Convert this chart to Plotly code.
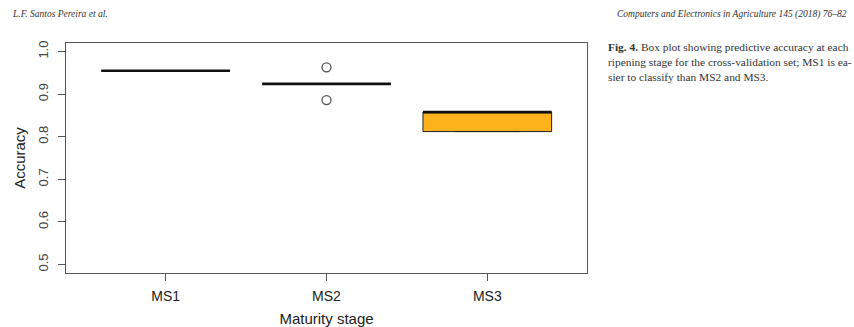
import plotly.graph_objects as go

# ---- data ----
categories = ["MS1", "MS2", "MS3"]
positions = [1, 2, 3]
q1 = [0.955, 0.924, 0.812]
median = [0.955, 0.924, 0.858]
q3 = [0.955, 0.924, 0.858]
lowerfence = [0.955, 0.924, 0.812]
upperfence = [0.955, 0.924, 0.858]
outlier_x = [2, 2]
outlier_y = [0.963, 0.886]
y_ticks = [0.5, 0.6, 0.7, 0.8, 0.9, 1.0]
y_ticklabels = ["0.5", "0.6", "0.7", "0.8", "0.9", "1.0"]

ORANGE = "#FBB21C"
BOXW = 0.8
FRAME = "#555555"

fig = go.Figure()
for i, p in enumerate(positions):
    fig.add_trace(go.Box(
        x=[p], q1=[q1[i]], median=[median[i]], q3=[q3[i]],
        lowerfence=[lowerfence[i]], upperfence=[upperfence[i]],
        width=BOXW, whiskerwidth=0.5, fillcolor=ORANGE,
        line=dict(color="#222222", width=1), boxpoints=False,
        showlegend=False, hoverinfo="skip"))
    fig.add_trace(go.Scatter(
        x=[p - BOXW / 2, p + BOXW / 2], y=[median[i], median[i]],
        mode="lines", line=dict(color="#111111", width=2.6),
        showlegend=False, hoverinfo="skip"))

fig.add_trace(go.Scatter(
    x=outlier_x, y=outlier_y, mode="markers",
    marker=dict(symbol="circle-open", size=9, color="#555555",
                line=dict(width=1.3, color="#555555")),
    showlegend=False, hoverinfo="skip"))

fig.update_layout(
    width=854, height=327,
    margin=dict(l=66, r=267, t=43, b=54, autoexpand=False),
    paper_bgcolor="white", plot_bgcolor="white",
    font=dict(family="Liberation Sans, Arial, sans-serif", color="#222222"),
    xaxis=dict(range=[0.38, 3.62], tickvals=positions, ticktext=categories,
               ticks="outside", ticklen=7, tickcolor=FRAME, tickwidth=1,
               showline=True, linecolor=FRAME, linewidth=1.2, mirror=True,
               showgrid=False, zeroline=False, automargin=False,
               ticklabelstandoff=3,
               tickfont=dict(size=14, color="#222222"),
               title=dict(text="Maturity stage", font=dict(size=15), standoff=12)),
    yaxis=dict(range=[0.48, 1.02], tickvals=y_ticks, ticktext=y_ticklabels,
               ticks="outside", ticklen=7, tickcolor=FRAME, tickwidth=1,
               tickangle=-90, ticklabelstandoff=5,
               showline=True, linecolor=FRAME, linewidth=1.2, mirror=True,
               showgrid=False, zeroline=False, automargin=False,
               tickfont=dict(size=13, color="#444444"),
               title=dict(text="Accuracy", font=dict(size=15), standoff=6)),
)

serif = "Liberation Serif, DejaVu Serif, serif"
fig.add_annotation(xref="paper", yref="paper", x=-56/521, y=1 + 29/230,
                   xanchor="left", yanchor="middle", showarrow=False,
                   text="L.F. Santos Pereira et al.",
                   font=dict(family=serif, size=9.5, color="#333333", style="italic"))
fig.add_annotation(xref="paper", yref="paper", x=(849-66)/521, y=1 + 29/230,
                   xanchor="right", yanchor="middle", showarrow=False,
                   text="Computers and Electronics in Agriculture 145 (2018) 76–82",
                   font=dict(family=serif, size=9.5, color="#333333", style="italic"))
fig.add_annotation(xref="paper", yref="paper", x=(606-66)/521, y=1 + 4/230,
                   xanchor="left", yanchor="top", showarrow=False, align="left",
                   text="<b>Fig. 4.</b> Box plot showing predictive accuracy at each<br>"
                        "ripening stage for the cross-validation set; MS1 is ea-<br>"
                        "sier to classify than MS2 and MS3.",
                   font=dict(family=serif, size=11.4, color="#333333"))

fig.write_html("out.html", config={"displayModeBar": False},
               post_script="document.body.style.margin='0';document.body.style.overflow='hidden';")
